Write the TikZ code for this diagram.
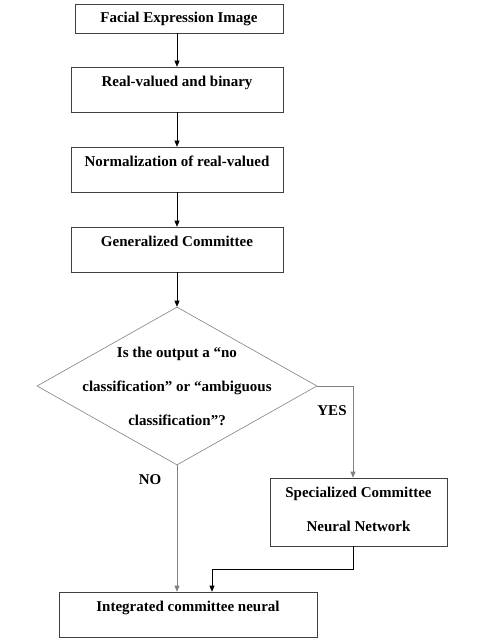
\documentclass[tikz,border=0pt]{standalone}
\usepackage{fontspec}
\setmainfont{Liberation Serif}
\usetikzlibrary{shapes.geometric,arrows.meta}

\tikzset{
  flow/.style={draw=black!75, line width=0.6pt, inner sep=0pt, font=\bfseries\fontsize{15}{34}\selectfont},
  tallbox/.style={flow, text height=19.5pt, text depth=25.5pt},
  arr/.style={-{Triangle[length=6pt,width=5pt]}, line width=0.6pt},
  grayline/.style={draw=black!50, line width=0.6pt},
  txt/.style={font=\bfseries\fontsize{15}{34}\selectfont, align=center, inner sep=0pt}
}

\begin{document}
\begin{tikzpicture}[x=1pt,y=-1pt]
\useasboundingbox (0,0) rectangle (476,644);

\node[flow, minimum width=208pt, minimum height=29pt] (img) at (179,18.5) {Facial Expression Image};
\node[tallbox, minimum width=212pt] (feat) at (177,89.5) {Real-valued and binary};
\node[tallbox, minimum width=212pt] (norm) at (177,169.5) {Normalization of real-valued};
\node[tallbox, minimum width=212pt] (gen) at (177,249.5) {Generalized Committee};

\node[diamond, grayline, minimum width=280pt, minimum height=158pt, inner sep=0pt] (dec) at (177,386) {};
\node[txt] (q) at (dec) {Is the output a ``no\\classification'' or ``ambiguous\\classification''?};

\node[flow, align=center, minimum width=177pt, minimum height=68pt] (spec) at (358.5,512) {};
\node[txt] (spectext) at (358.5,509) {Specialized Committee\\Neural Network};
\node[tallbox, minimum width=258pt] (integ) at (188,614.5) {Integrated committee neural};

\node[txt] (yes) at (332,411) {YES};
\node[txt] (no) at (150,480) {NO};

\draw[arr] (img.south -| feat) -- (feat.north);
\draw[arr] (feat) -- (norm.north);
\draw[arr] (norm) -- (gen.north);
\draw[arr] (gen) -- (dec.north);

\coordinate (yescol) at (353,0);
\coordinate (join) at (212,569);
\draw[arr, draw=black!50] (dec.east) -| (yescol |- spec.north);
\draw[arr, draw=black!50] (dec.south) -- (integ.north -| dec);
\draw[arr] (yescol |- spec.south) |- (join) -- (join |- integ.north);
\end{tikzpicture}
\end{document}
